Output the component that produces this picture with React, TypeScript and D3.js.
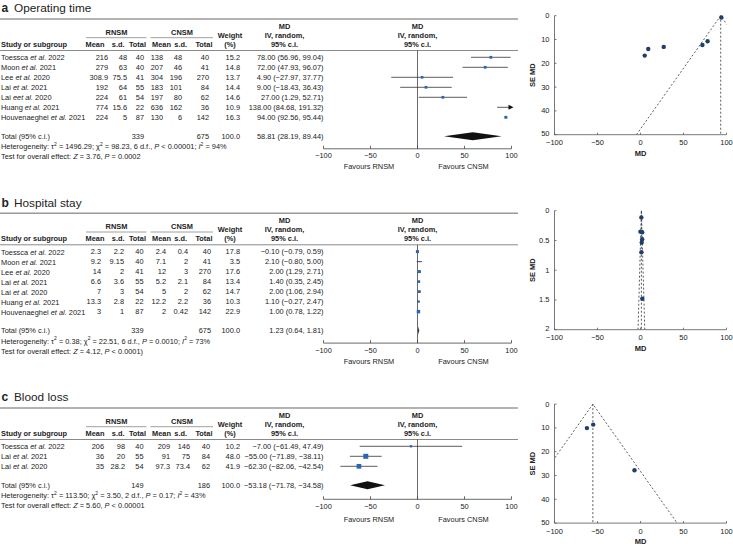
import React from "react";
import * as d3 from "d3";

const FONT = '"Liberation Sans", Arial, Helvetica, sans-serif';

// ---------- Panel a: Operating time ----------
const namesA = ["Toessca et al. 2022", "Moon et al. 2021", "Lee et al. 2020", "Lai et al. 2021", "Lai eet al. 2020", "Huang et al. 2021", "Houvenaeghel et al. 2021"];
const rMeanA = [216, 279, 308.9, 192, 224, 774, 224];
const rSdA = [48, 63, 75.5, 64, 61, 15.6, 5];
const rNA = [40, 40, 41, 55, 54, 22, 87];
const cMeanA = [138, 207, 304, 183, 197, 636, 130];
const cSdA = [48, 46, 196, 101, 80, 162, 6];
const cNA = [40, 41, 270, 84, 62, 36, 142];
const weightA = [15.2, 14.8, 13.7, 14.4, 14.6, 10.9, 16.3];
const mdA = [78.0, 72.0, 4.9, 9.0, 27.0, 138.0, 94.0];
const loA = [56.96, 47.93, -27.97, -18.43, 1.29, 84.68, 92.56];
const hiA = [99.04, 96.07, 37.77, 36.43, 52.71, 191.32, 95.44];
const totalA = [339, 675, 58.81, 28.19, 89.44];
const hetA = ["1496.29", "98.23", "6", "< 0.00001", "94"];
const testA = ["3.76", "= 0.0002"];

// ---------- Panel b: Hospital stay ----------
const namesB = ["Toessca et al. 2022", "Moon et al. 2021", "Lee et al. 2020", "Lai et al. 2021", "Lai et al. 2020", "Huang et al. 2021", "Houvenaeghel et al. 2021"];
const rMeanB = [2.3, 9.2, 14, 6.6, 7, 13.3, 3];
const rSdB = [2.2, 9.15, 2, 3.6, 3, 2.8, 1];
const rNB = [40, 40, 41, 55, 54, 22, 87];
const cMeanB = [2.4, 7.1, 12, 5.2, 5, 12.2, 2];
const cSdB = [0.4, 2, 3, 2.1, 2, 2.2, 0.42];
const cNB = [40, 41, 270, 84, 62, 36, 142];
const weightB = [17.8, 3.5, 17.6, 13.4, 14.7, 10.3, 22.9];
const mdB = [-0.1, 2.1, 2.0, 1.4, 2.0, 1.1, 1.0];
const loB = [-0.79, -0.8, 1.29, 0.35, 1.06, -0.27, 0.78];
const hiB = [0.59, 5.0, 2.71, 2.45, 2.94, 2.47, 1.22];
const totalB = [339, 675, 1.23, 0.64, 1.81];
const hetB = ["0.38", "22.51", "6", "= 0.0010", "73"];
const testB = ["4.12", "< 0.0001)"];

// ---------- Panel c: Blood loss ----------
const namesC = ["Toessca et al. 2022", "Lai et al. 2021", "Lai et al. 2020"];
const rMeanC = [206, 36, 35];
const rSdC = [98, 20, 28.2];
const rNC = [40, 55, 54];
const cMeanC = [209, 91, 97.3];
const cSdC = [146, 75, 73.4];
const cNC = [40, 84, 62];
const weightC = [10.2, 48.0, 41.9];
const mdC = [-7.0, -55.0, -62.3];
const loC = [-61.49, -71.89, -82.06];
const hiC = [47.49, -38.11, -42.54];
const totalC = [149, 186, -53.18, -71.78, -34.58];
const hetC = ["113.50", "3.50", "2", "= 0.17", "43"];
const testC = ["5.60", "< 0.00001"];

const forestTicks = [-100, -50, 0, 50, 100];
const funnelXTicks = [-100, -50, 0, 50, 100];
const funnelYTicksA = [0, 10, 20, 30, 40, 50];
const funnelYTicksB = [0, 0.5, 1, 1.5, 2];
const funnelYTicksC = [0, 10, 20, 30, 40, 50];

const xF = d3.scaleLinear().domain([-100, 100]).range([323.5, 511.5]);
const xP = d3.scaleLinear().domain([-100, 100]).range([554.5, 726.5]);

const BLUE = "#2a66b3";
const DOT = "#1d3f6b";
const TXT = "#222";

const fmt2 = (v: number) => (v < 0 ? "\u2212" : "") + Math.abs(v).toFixed(2);
const fmtTick = (v: number) => (v < 0 ? "\u2212" : "") + Math.abs(v);

function Name({ x, y, s }: { x: number; y: number; s: string }) {
  const parts = s.split(/(e?et al\.)/);
  return (
    <text x={x} y={y} dominantBaseline="central">
      {parts.map((p, i) => (
        <tspan key={i} fontStyle={/et al\./.test(p) ? "italic" : "normal"}>{p}</tspan>
      ))}
    </text>
  );
}

type PanelProps = {
  dy: number; fdy: number; letter: string; title: string;
  names: string[]; rM: number[]; rS: number[]; rN: number[]; cM: number[]; cS: number[]; cN: number[];
  w: number[]; md: number[]; lo: number[]; hi: number[]; total: number[]; het: string[]; test: string[];
  cols: number[]; yMax: number; yTicks: number[]; axOff: number; favOff: number;
};

function Panel(p: PanelProps) {
  const { dy, fdy } = p;
  const rowY = (i: number) => 57.3 + dy + i * 10;
  const totY = rowY(p.names.length - 1) + 19;
  const axY = totY + p.axOff;
  const zeroX = xF(0);
  const cols = p.cols;
  const se = p.lo.map((l, i) => (p.hi[i] - l) / 3.92);
  const wsum = d3.sum(se, (s) => 1 / (s * s));
  const fe = d3.sum(p.md, (m, i) => m / (se[i] * se[i])) / wsum;
  const yTop = 15.7 + fdy, yBot = 134.7 + fdy;
  const yP = d3.scaleLinear().domain([0, p.yMax]).range([yTop, yBot]);
  const clipId = "clip" + p.letter;
  const funnel = d3.line<[number, number]>().x((d) => xP(d[0])).y((d) => yP(d[1]));
  const sq = (wt: number) => 0.72 * Math.sqrt(wt);
  const hdrCols = [104.5, 124.5, 146, 171, 187, 212.5];
  const hdrLbl = ["Mean", "s.d.", "Total", "Mean", "s.d.", "Total"];
  const [tN1, tN2, tMd, tLo, tHi] = p.total;
  return (
    <g>
      {/* title */}
      <text x={1.5} y={8.3 + dy} dominantBaseline="central" fontSize={12} fontWeight="bold">{p.letter}</text>
      <text x={14} y={8.3 + dy} dominantBaseline="central" fontSize={11.8}>{p.title}</text>
      <line x1={0} x2={518} y1={19 + dy} y2={19 + dy} stroke="#9a9a9a" strokeWidth={1.5} />
      {/* header */}
      <g fontWeight="bold">
        <text x={116.5} y={32.5 + dy} textAnchor="middle" dominantBaseline="central">RNSM</text>
        <text x={182} y={32.5 + dy} textAnchor="middle" dominantBaseline="central">CNSM</text>
        <text x={230} y={35 + dy} textAnchor="middle" dominantBaseline="central">Weight</text>
        <text x={230} y={44 + dy} textAnchor="middle" dominantBaseline="central">(%)</text>
        {[284.5, zeroX].map((cx, k) => (
          <g key={k}>
            <text x={cx} y={26 + dy} textAnchor="middle" dominantBaseline="central">MD</text>
            <text x={cx} y={35 + dy} textAnchor="middle" dominantBaseline="central">IV, random,</text>
            <text x={cx} y={44 + dy} textAnchor="middle" dominantBaseline="central">95% c.i.</text>
          </g>
        ))}
        <text x={1} y={44 + dy} dominantBaseline="central">Study or subgroup</text>
        {hdrLbl.map((l, i) => (
          <text key={i} x={hdrCols[i]} y={44 + dy} textAnchor="end" dominantBaseline="central">{l}</text>
        ))}
      </g>
      <line x1={86} x2={146.5} y1={37.7 + dy} y2={37.7 + dy} stroke="#888" strokeWidth={0.8} />
      <line x1={150.5} x2={213} y1={37.7 + dy} y2={37.7 + dy} stroke="#888" strokeWidth={0.8} />
      <line x1={0} x2={518} y1={50.5 + dy} y2={50.5 + dy} stroke="#8a8a8a" strokeWidth={1} />
      {/* rows */}
      {p.names.map((n, i) => {
        const y = rowY(i);
        const vals = [p.rM[i], p.rS[i], p.rN[i], p.cM[i], p.cS[i], p.cN[i]];
        return (
          <g key={i}>
            <Name x={1} y={y} s={n} />
            {vals.map((v, k) => (
              <text key={k} x={cols[k]} y={y} textAnchor="end" dominantBaseline="central">{String(v)}</text>
            ))}
            <text x={240} y={y} textAnchor="end" dominantBaseline="central">{p.w[i].toFixed(1)}</text>
            <text x={323.5} y={y} textAnchor="end" dominantBaseline="central">{`${fmt2(p.md[i])} (${fmt2(p.lo[i])}, ${fmt2(p.hi[i])})`}</text>
          </g>
        );
      })}
      {/* total */}
      <text x={1} y={totY} dominantBaseline="central">Total (95% c.i.)</text>
      <text x={cols[2]} y={totY} textAnchor="end" dominantBaseline="central">{tN1}</text>
      <text x={cols[5]} y={totY} textAnchor="end" dominantBaseline="central">{tN2}</text>
      <text x={240} y={totY} textAnchor="end" dominantBaseline="central">100.0</text>
      <text x={323.5} y={totY} textAnchor="end" dominantBaseline="central">{`${fmt2(tMd)} (${fmt2(tLo)}, ${fmt2(tHi)})`}</text>
      <text x={1} y={totY + 10} dominantBaseline="central">
        <tspan>Heterogeneity: τ</tspan>
        <tspan fontSize={5} dy={-2.5}>2</tspan>
        <tspan dy={2.5}>{` = ${p.het[0]}; χ`}</tspan>
        <tspan fontSize={5} dy={-2.5}>2</tspan>
        <tspan dy={2.5}>{` = ${p.het[1]}, ${p.het[2]} d.f., `}</tspan>
        <tspan fontStyle="italic">P</tspan>
        <tspan>{` ${p.het[3]}; `}</tspan>
        <tspan fontStyle="italic">I</tspan>
        <tspan fontSize={5} dy={-2.5}>2</tspan>
        <tspan dy={2.5}>{` = ${p.het[4]}%`}</tspan>
      </text>
      <text x={1} y={totY + 20} dominantBaseline="central">
        <tspan>Test for overall effect: </tspan>
        <tspan fontStyle="italic">Z</tspan>
        <tspan>{` = ${p.test[0]}, `}</tspan>
        <tspan fontStyle="italic">P</tspan>
        <tspan>{` ${p.test[1]}`}</tspan>
      </text>
      {/* forest */}
      <line x1={zeroX} x2={zeroX} y1={50.5 + dy} y2={axY} stroke="#444" strokeWidth={0.8} />
      {p.names.map((n, i) => {
        const y = rowY(i);
        const l = Math.max(-100, p.lo[i]), h = Math.min(100, p.hi[i]);
        const arrow = p.hi[i] > 100;
        const s = sq(p.w[i]);
        return (
          <g key={"f" + i}>
            <line x1={xF(l)} x2={xF(h)} y1={y} y2={y} stroke="#333" strokeWidth={0.8} />
            {arrow && (
              <path d={`M${xF(100) + 2},${y} L${xF(100) - 3},${y - 2.5} L${xF(100) - 3},${y + 2.5} Z`} fill="#111" />
            )}
            {p.md[i] >= -100 && p.md[i] <= 100 && (
              <rect x={xF(p.md[i]) - s / 2} y={y - s / 2} width={s} height={s} fill={BLUE} />
            )}
          </g>
        );
      })}
      <path d={`M${xF(tLo)},${totY} L${xF(tMd)},${totY - 4} L${xF(tHi)},${totY} L${xF(tMd)},${totY + 4} Z`} fill="#111" />
      <line x1={xF(-100)} x2={xF(100)} y1={axY} y2={axY} stroke="#444" strokeWidth={0.8} />
      {forestTicks.map((t) => (
        <g key={"t" + t}>
          <line x1={xF(t)} x2={xF(t)} y1={axY} y2={axY - 3} stroke="#444" strokeWidth={0.8} />
          <text x={xF(t)} y={axY + 7} textAnchor="middle" dominantBaseline="central">{fmtTick(t)}</text>
        </g>
      ))}
      <text x={369} y={axY + p.favOff} textAnchor="middle" dominantBaseline="central">Favours RNSM</text>
      <text x={463.5} y={axY + p.favOff} textAnchor="middle" dominantBaseline="central">Favours CNSM</text>
      {/* funnel */}
      <defs>
        <clipPath id={clipId}>
          <rect x={xP(-100)} y={yTop - 1} width={xP(100) - xP(-100)} height={yBot - yTop + 1} />
        </clipPath>
      </defs>
      <g clipPath={`url(#${clipId})`}>
        <path d={funnel([[fe - 1.96 * p.yMax, p.yMax], [fe, 0], [fe + 1.96 * p.yMax, p.yMax]]) || ""} fill="none" stroke="#333" strokeWidth={0.8} strokeDasharray="2,2" />
        <path d={funnel([[fe, 0], [fe, p.yMax]]) || ""} fill="none" stroke="#333" strokeWidth={0.8} strokeDasharray="2,2" />
        {p.md.map((m, i) => (
          <circle key={"p" + i} cx={xP(m)} cy={yP(se[i])} r={2.2} fill={DOT} />
        ))}
      </g>
      <line x1={xP(-100)} x2={xP(-100)} y1={yTop} y2={yBot} stroke="#555" strokeWidth={0.8} />
      <line x1={xP(-100)} x2={xP(100)} y1={yBot} y2={yBot} stroke="#555" strokeWidth={0.8} />
      {p.yTicks.map((t) => (
        <g key={"y" + t}>
          <line x1={xP(-100)} x2={xP(-100) + 2} y1={yP(t)} y2={yP(t)} stroke="#555" strokeWidth={0.8} />
          <text x={549.5} y={yP(t) - (t === p.yMax ? 0.8 : 0)} textAnchor="end" dominantBaseline="central" fontSize={7.5}>{String(t)}</text>
        </g>
      ))}
      {funnelXTicks.map((t) => (
        <g key={"x" + t}>
          <line x1={xP(t)} x2={xP(t)} y1={yBot} y2={yBot - 2} stroke="#555" strokeWidth={0.8} />
          <text x={xP(t)} y={yBot + 8.2} textAnchor="middle" dominantBaseline="central" fontSize={7.5}>{fmtTick(t)}</text>
        </g>
      ))}
      <text x={640.5} y={yBot + 18.5} textAnchor="middle" dominantBaseline="central" fontSize={7.5} fontWeight="bold">MD</text>
      <text transform={`translate(532,${(yTop + yBot) / 2}) rotate(-90)`} textAnchor="middle" dominantBaseline="central" fontSize={7.5} fontWeight="bold">SE MD</text>
    </g>
  );
}

export default function App() {
  return (
    <svg width={733} height={547} style={{ position: "absolute", left: 0, top: 0, background: "#fff" }} fontFamily={FONT} fontSize={7.4} fill={TXT}>
      <rect width={733} height={547} fill="#fff" />
      <Panel dy={0} fdy={0} letter="a" title="Operating time" names={namesA} rM={rMeanA} rS={rSdA} rN={rNA} cM={cMeanA} cS={cSdA} cN={cNA}
        w={weightA} md={mdA} lo={loA} hi={hiA} total={totalA} het={hetA} test={testA}
        cols={[108, 127, 144, 163, 182, 209]} yMax={50} yTicks={funnelYTicksA} axOff={12.5} favOff={18} />
      <Panel dy={194.3} fdy={195} letter="b" title="Hospital stay" names={namesB} rM={rMeanB} rS={rSdB} rN={rNB} cM={cMeanB} cS={cSdB} cN={cNB}
        w={weightB} md={mdB} lo={loB} hi={hiB} total={totalB} het={hetB} test={testB}
        cols={[101, 124, 143.5, 166, 188, 211]} yMax={2} yTicks={funnelYTicksB} axOff={12.5} favOff={18.5} />
      <Panel dy={389} fdy={388.4} letter="c" title="Blood loss" names={namesC} rM={rMeanC} rS={rSdC} rN={rNC} cM={cMeanC} cS={cSdC} cN={cNC}
        w={weightC} md={mdC} lo={loC} hi={hiC} total={totalC} het={hetC} test={testC}
        cols={[104, 125, 143.5, 170, 190, 210]} yMax={50} yTicks={funnelYTicksC} axOff={14} favOff={20.5} />
    </svg>
  );
}
